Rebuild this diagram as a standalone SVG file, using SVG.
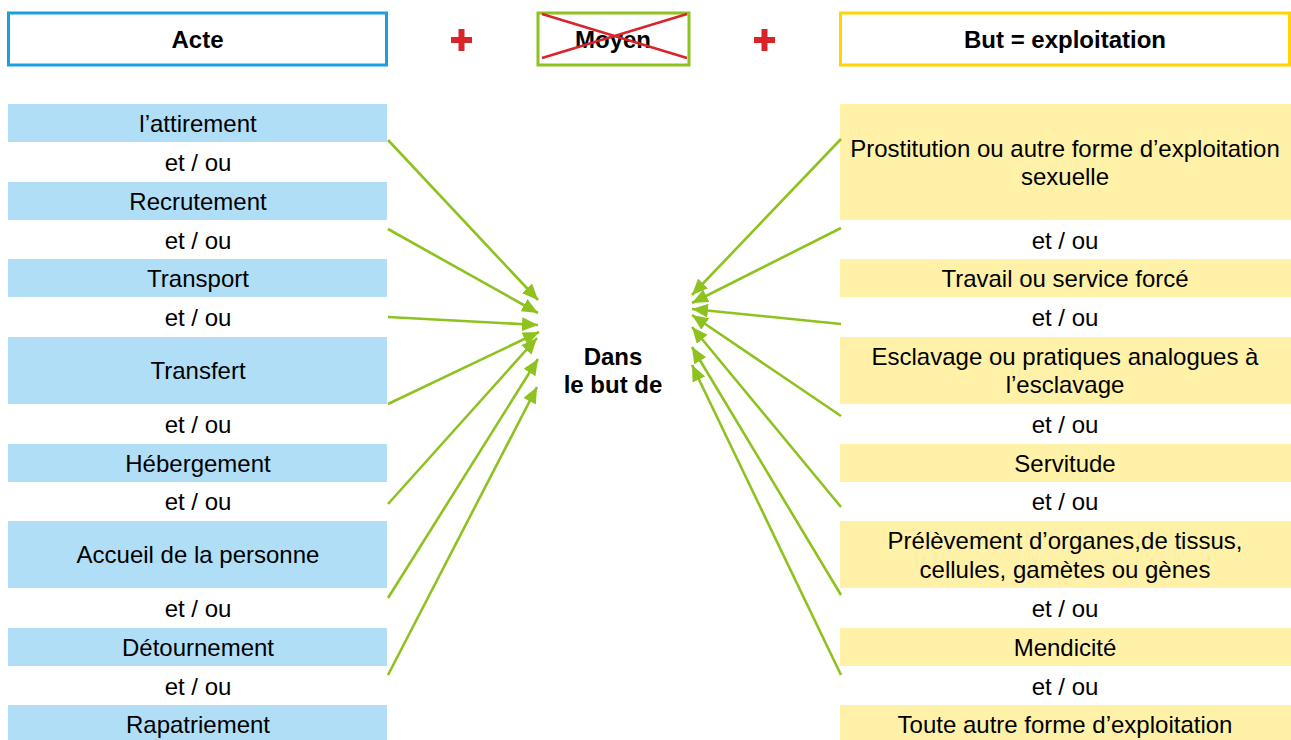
<svg xmlns="http://www.w3.org/2000/svg" width="1291" height="740" viewBox="0 0 1291 740">
<style>
text{font-family:"Liberation Sans",Arial,sans-serif;font-size:24px;fill:#000;text-anchor:middle}
.b{font-weight:bold}
.l{fill:#b1def7}
.r{fill:#fff2a8}
.conn line{stroke:#8dc21f;stroke-width:2.6;fill:none}
.plus{stroke:#d7252a;stroke-width:6;fill:none}
</style>
<defs>
<marker id="ah" markerUnits="userSpaceOnUse" markerWidth="16" markerHeight="14" refX="16" refY="7" orient="auto">
<path d="M0,0 L16,7 L0,14 z" fill="#8dc21f"/>
</marker>
</defs>
<rect width="1291" height="740" fill="#fff"/>
<g id="h-acte"><rect x="8.5" y="13" width="378" height="52" fill="#fff" stroke="#1aa0e0" stroke-width="3"/><text class="b" x="197.5" y="48">Acte</text></g>
<g id="plus1"><path class="plus" d="M451,40 H472 M461.5,29 V51"/></g>
<g id="h-moyen"><rect x="538" y="13" width="151" height="52" fill="#fff" stroke="#8dc21f" stroke-width="3"/><text class="b" x="613" y="48">Moyen</text><path d="M542,14 L687,58 M542,58 L687,14" stroke="#d7252a" stroke-width="2.5"/></g>
<g id="plus2"><path class="plus" d="M754,40 H775 M764.5,29 V51"/></g>
<g id="h-but"><rect x="840.5" y="13" width="449" height="52" fill="#fff" stroke="#ffd400" stroke-width="3"/><text class="b" x="1065" y="48">But = exploitation</text></g>

<g id="a1"><rect class="l" x="8" y="104" width="379" height="38"/><text x="198" y="132">l’attirement</text></g>
<g id="a-o1"><text x="198" y="170.5">et / ou</text></g>
<g id="a2"><rect class="l" x="8" y="182" width="379" height="38"/><text x="198" y="209.5">Recrutement</text></g>
<g id="a-o2"><text x="198" y="249">et / ou</text></g>
<g id="a3"><rect class="l" x="8" y="259" width="379" height="38"/><text x="198" y="286.5">Transport</text></g>
<g id="a-o3"><text x="198" y="326">et / ou</text></g>
<g id="a4"><rect class="l" x="8" y="337" width="379" height="67"/><text x="198" y="379">Transfert</text></g>
<g id="a-o4"><text x="198" y="433">et / ou</text></g>
<g id="a5"><rect class="l" x="8" y="444" width="379" height="38"/><text x="198" y="471.5">Hébergement</text></g>
<g id="a-o5"><text x="198" y="510">et / ou</text></g>
<g id="a6"><rect class="l" x="8" y="521" width="379" height="67"/><text x="198" y="563">Accueil de la personne</text></g>
<g id="a-o6"><text x="198" y="617">et / ou</text></g>
<g id="a7"><rect class="l" x="8" y="628" width="379" height="38"/><text x="198" y="655.5">Détournement</text></g>
<g id="a-o7"><text x="198" y="695">et / ou</text></g>
<g id="a8"><rect class="l" x="8" y="705" width="379" height="40"/><text x="198" y="732.5">Rapatriement</text></g>

<g id="center"><text class="b" x="613" y="365">Dans</text><text class="b" x="613" y="393">le but de</text></g>

<g id="b1"><rect class="r" x="840" y="104" width="451" height="116"/><text x="1065" y="157">Prostitution ou autre forme d’exploitation</text><text x="1065" y="185">sexuelle</text></g>
<g id="b-o1"><text x="1065" y="249">et / ou</text></g>
<g id="b2"><rect class="r" x="840" y="259" width="451" height="38"/><text x="1065" y="286.5">Travail ou service forcé</text></g>
<g id="b-o2"><text x="1065" y="326">et / ou</text></g>
<g id="b3"><rect class="r" x="840" y="337" width="451" height="67"/><text x="1065" y="365">Esclavage ou pratiques analogues à</text><text x="1065" y="393">l’esclavage</text></g>
<g id="b-o3"><text x="1065" y="433">et / ou</text></g>
<g id="b4"><rect class="r" x="840" y="444" width="451" height="38"/><text x="1065" y="471.5">Servitude</text></g>
<g id="b-o4"><text x="1065" y="510">et / ou</text></g>
<g id="b5"><rect class="r" x="840" y="521" width="451" height="67"/><text x="1065" y="549">Prélèvement d’organes,de tissus,</text><text x="1065" y="578">cellules, gamètes ou gènes</text></g>
<g id="b-o5"><text x="1065" y="617">et / ou</text></g>
<g id="b6"><rect class="r" x="840" y="628" width="451" height="38"/><text x="1065" y="655.5">Mendicité</text></g>
<g id="b-o6"><text x="1065" y="695">et / ou</text></g>
<g id="b7"><rect class="r" x="840" y="705" width="451" height="40"/><text x="1065" y="732.5">Toute autre forme d’exploitation</text></g>

<g id="connectors" class="conn">
<line x1="388" y1="140" x2="538" y2="300" marker-end="url(#ah)"/>
<line x1="388" y1="229" x2="538" y2="313" marker-end="url(#ah)"/>
<line x1="388" y1="317" x2="538" y2="325" marker-end="url(#ah)"/>
<line x1="388" y1="404" x2="539" y2="332" marker-end="url(#ah)"/>
<line x1="388" y1="504" x2="537" y2="338" marker-end="url(#ah)"/>
<line x1="388" y1="598" x2="538" y2="359" marker-end="url(#ah)"/>
<line x1="388" y1="675" x2="537" y2="387" marker-end="url(#ah)"/>
<line x1="841" y1="139" x2="692" y2="295" marker-end="url(#ah)"/>
<line x1="841" y1="228" x2="692" y2="303" marker-end="url(#ah)"/>
<line x1="841" y1="324" x2="692" y2="309" marker-end="url(#ah)"/>
<line x1="841" y1="416" x2="692" y2="315" marker-end="url(#ah)"/>
<line x1="841" y1="507" x2="692" y2="327" marker-end="url(#ah)"/>
<line x1="841" y1="595" x2="692" y2="347" marker-end="url(#ah)"/>
<line x1="841" y1="675" x2="692" y2="365" marker-end="url(#ah)"/>
</g>
</svg>
